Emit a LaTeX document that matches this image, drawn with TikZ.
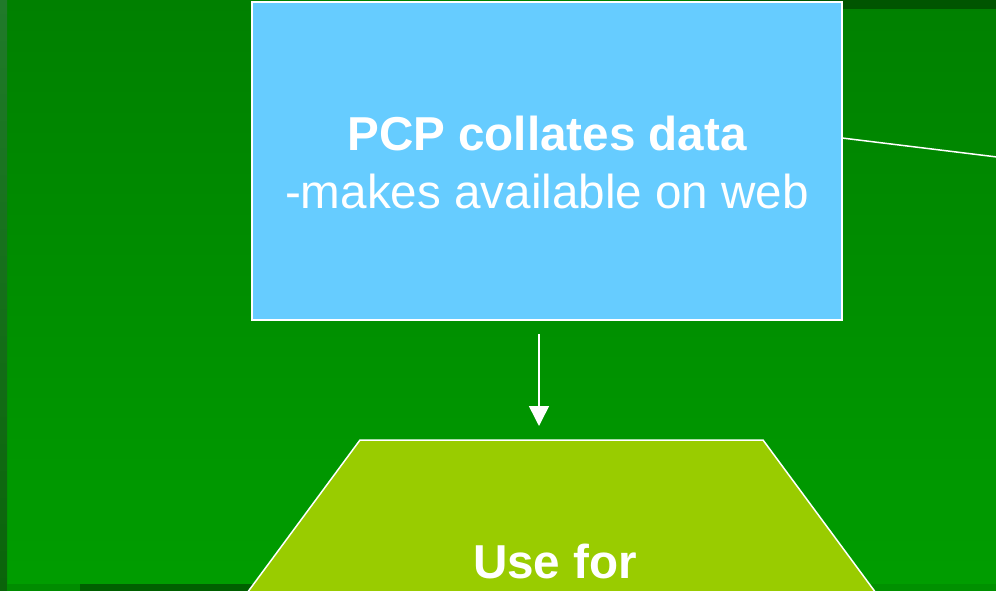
\documentclass[tikz,border=0pt]{standalone}
\usepackage{fontspec}
\setmainfont{Liberation Sans}
\begin{document}
\begin{tikzpicture}[x=1pt,y=-1pt,
  bigtext/.style={text=white,font=\fontsize{47.6}{58}\selectfont,inner sep=0pt,anchor=base},
  boldtext/.style={bigtext,font=\fontsize{47.6}{58}\selectfont\bfseries},
  bluebox/.style={draw=white,line width=2pt,fill=boxblue,minimum width=590pt,minimum height=318pt,inner sep=0pt},
  arr/.style={draw=white,line width=1.5pt,-{Triangle[width=20pt,length=20pt]}},
  thin/.style={draw=white,line width=1.5pt}]
\usetikzlibrary{arrows.meta}
\definecolor{boxblue}{HTML}{66CCFF}
\definecolor{trapgreen}{HTML}{99CC00}
\useasboundingbox (0,0) rectangle (996,591);
\clip (0,0) rectangle (996,591);
% background
\shade[top color={rgb,255:red,0;green,128;blue,0},bottom color={rgb,255:red,0;green,157;blue,0}] (0,0) rectangle (996,591);
\shade[top color={rgb,255:red,32;green,122;blue,42},bottom color={rgb,255:red,10;green,100;blue,10}] (0,0) rectangle (7,591);
\fill[color={rgb,255:red,0;green,85;blue,0}] (700,0) rectangle (996,9);
\fill[color={rgb,255:red,0;green,140;blue,0}] (7,584) rectangle (80,591);
\fill[color={rgb,255:red,0;green,96;blue,0}] (80,584) rectangle (870,591);
\fill[color={rgb,255:red,0;green,144;blue,0}] (870,584) rectangle (996,591);
% blue box
\node[bluebox] (box) at (547,161) {};
\node[boldtext] (t1) at (547,150) {PCP collates data};
\node[bigtext] (t2) at (547,208) {-makes available on web};
% connector to the right
\coordinate (l1) at (842,138);
\coordinate (l2) at (997,157);
\draw[thin] (l1) -- (l2);
% trapezoid
\draw[draw=white,line width=1.5pt,fill=trapgreen] (360,440) -- (763,440) -- (890,612) -- (233,612) -- cycle;
\node[boldtext] (t3) at (555,578) {Use for};
% arrow
\coordinate (a1) at (539,334);
\coordinate (a2) at (539,426);
\draw[arr] (a1) -- (a2);
\end{tikzpicture}
\end{document}
